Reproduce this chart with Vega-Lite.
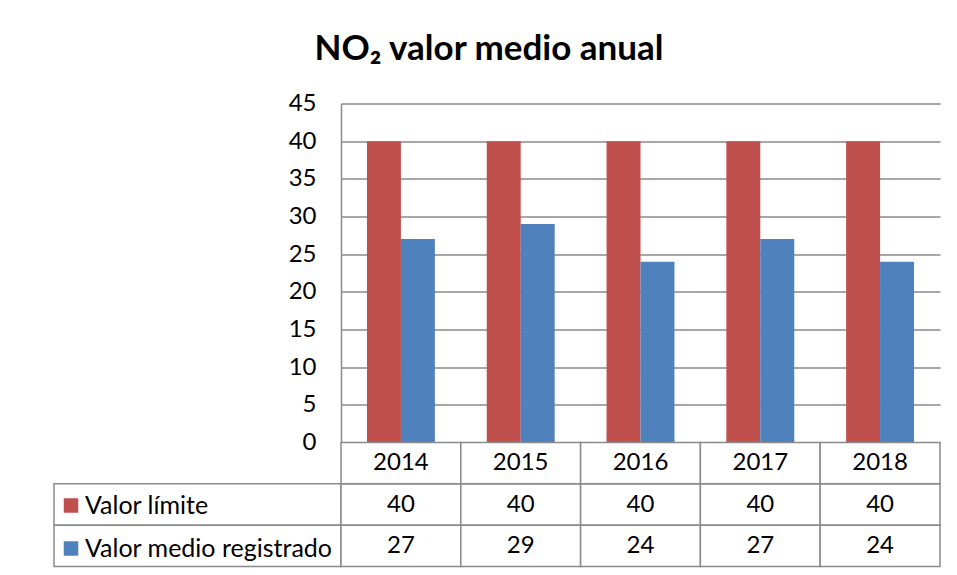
{
  "$schema": "https://vega.github.io/schema/vega-lite/v6.json",
  "padding": {"left": 53, "top": 31.5, "right": 0, "bottom": 0},
  "background": "white",
  "config": {
    "font": "Lato",
    "view": {"stroke": null},
    "text": {"font": "Lato", "fontSize": 24, "color": "black"}
  },
  "title": {
    "text": "NO₂ valor medio anual",
    "fontSize": 35,
    "fontWeight": "bold",
    "font": "Lato",
    "color": "black",
    "anchor": "middle",
    "dx": -8,
    "offset": 24.5
  },
  "datasets": {
    "no2": [
      {"year": "2014", "serie": "Valor límite", "value": 40},
      {"year": "2014", "serie": "Valor medio registrado", "value": 27},
      {"year": "2015", "serie": "Valor límite", "value": 40},
      {"year": "2015", "serie": "Valor medio registrado", "value": 29},
      {"year": "2016", "serie": "Valor límite", "value": 40},
      {"year": "2016", "serie": "Valor medio registrado", "value": 24},
      {"year": "2017", "serie": "Valor límite", "value": 40},
      {"year": "2017", "serie": "Valor medio registrado", "value": 27},
      {"year": "2018", "serie": "Valor límite", "value": 40},
      {"year": "2018", "serie": "Valor medio registrado", "value": 24}
    ]
  },
  "columns": 2,
  "spacing": 0,
  "bounds": "flush",
  "resolve": {
    "scale": {"x": "independent", "y": "independent"}
  },
  "concat": [
    {
      "width": 287,
      "height": 339,
      "data": {"values": []},
      "mark": "rect",
      "encoding": {}
    },
    {
      "width": 599,
      "height": 339,
      "data": {"name": "no2"},
      "mark": {"type": "bar"},
      "encoding": {
        "x": {
          "field": "year",
          "type": "nominal",
          "axis": null,
          "scale": {"paddingInner": 0.433, "paddingOuter": 0.2167}
        },
        "xOffset": {"field": "serie", "type": "nominal", "sort": ["Valor límite", "Valor medio registrado"]},
        "y": {
          "field": "value",
          "type": "quantitative",
          "scale": {"domain": [0, 45], "nice": false},
          "axis": {
            "title": null,
            "values": [0, 5, 10, 15, 20, 25, 30, 35, 40, 45],
            "grid": true,
            "gridColor": "#8a8a8a",
            "gridWidth": 1.5,
            "domain": true,
            "domainColor": "#8a8a8a",
            "domainWidth": 1.5,
            "ticks": false,
            "labelPadding": 25,
            "labelFont": "Lato",
            "labelFontSize": 24,
            "labelColor": "black"
          }
        },
        "color": {
          "field": "serie",
          "type": "nominal",
          "sort": ["Valor límite", "Valor medio registrado"],
          "scale": {"domain": ["Valor límite", "Valor medio registrado"], "range": ["#C0504D", "#4F81BD"]},
          "legend": {
            "title": null,
            "orient": "none",
            "legendX": 4.5,
            "legendY": 389.5,
            "padding": 0,
            "symbolType": "square",
            "symbolSize": 210,
            "symbolStrokeWidth": 0,
            "labelFont": "Lato",
            "labelFontSize": 25,
            "labelColor": "black",
            "labelOffset": 1.5,
            "labelLimit": 0,
            "rowPadding": 17
          }
        }
      }
    },
    {
      "width": 287,
      "height": 124,
      "data": {"name": "no2"},
      "transform": [{"filter": "datum.year == '2014'"}],
      "mark": {"type": "rect", "fill": "white", "stroke": "#8a8a8a", "strokeWidth": 1.5},
      "encoding": {
        "y": {
          "field": "serie",
          "type": "nominal",
          "axis": null,
          "scale": {"domain": ["header", "Valor límite", "Valor medio registrado"], "paddingInner": 0, "paddingOuter": 0}
        }
      }
    },
    {
      "width": 599,
      "height": 124,
      "data": {"name": "no2"},
      "encoding": {
        "x": {"field": "year", "type": "nominal", "axis": null, "scale": {"paddingInner": 0, "paddingOuter": 0}}
      },
      "layer": [
        {
          "mark": {"type": "rect", "fill": "white", "stroke": "#8a8a8a", "strokeWidth": 1.5},
          "encoding": {
            "y": {
              "field": "serie",
              "type": "nominal",
              "axis": null,
              "scale": {"domain": ["header", "Valor límite", "Valor medio registrado"], "paddingInner": 0, "paddingOuter": 0}
            }
          }
        },
        {
          "transform": [{"filter": "datum.serie == 'Valor límite'"}],
          "mark": {"type": "rect", "fill": "white", "stroke": "#8a8a8a", "strokeWidth": 1.5},
          "encoding": {"y": {"datum": "header", "type": "nominal"}}
        },
        {
          "mark": {"type": "text", "fontSize": 24, "color": "black"},
          "encoding": {
            "y": {"field": "serie", "type": "nominal"},
            "text": {"field": "value", "type": "quantitative"}
          }
        },
        {
          "transform": [{"filter": "datum.serie == 'Valor límite'"}],
          "mark": {"type": "text", "fontSize": 24, "color": "black"},
          "encoding": {
            "y": {"datum": "header", "type": "nominal"},
            "text": {"field": "year", "type": "nominal"}
          }
        }
      ]
    }
  ]
}
